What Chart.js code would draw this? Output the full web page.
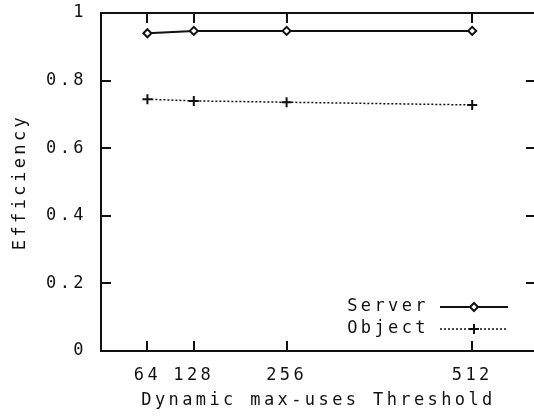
<!DOCTYPE html>
<html>
<head>
<meta charset="utf-8">
<script src="https://cdn.jsdelivr.net/npm/chart.js@4/dist/chart.umd.min.js"></script>
<style>
  html, body { margin: 0; padding: 0; background: #fff; overflow: hidden; }
  #wrap { width: 534px; height: 419px; overflow: hidden; }
</style>
</head>
<body>
<div id="wrap"><canvas id="chart" width="545" height="419"></canvas></div>
<script>
// thresholds and measured efficiency
const thresholds = [64, 128, 256, 512];
const serverEff = [0.940, 0.947, 0.947, 0.947];
const objectEff = [0.745, 0.740, 0.736, 0.728];
const yTicks = [0, 0.2, 0.4, 0.6, 0.8, 1];

const FONT = "'DejaVu Sans Mono', monospace";
const SIZE = 17;
const SPACING = '3.4px';
const TICK_LEN = 10;

function pts(ys) {
    return thresholds.map((x, i) => ({ x: x, y: ys[i] }));
}

// monospace text with wide letter spacing
const spacingPlugin = {
    id: 'spacing',
    beforeLayout(chart) { chart.ctx.letterSpacing = SPACING; },
    beforeDraw(chart) { chart.ctx.letterSpacing = SPACING; }
};

// box around the plot with inward ticks on every side
const framePlugin = {
    id: 'frame',
    afterDatasetsDraw(chart) {
        const { ctx, chartArea: a, scales } = chart;
        ctx.save();
        ctx.strokeStyle = '#111';
        ctx.lineWidth = 2;
        ctx.strokeRect(a.left, a.top, a.right - a.left, a.bottom - a.top);
        ctx.beginPath();
        scales.x.ticks.forEach(t => {
            const px = Math.round(scales.x.getPixelForValue(t.value));
            ctx.moveTo(px, a.bottom); ctx.lineTo(px, a.bottom - TICK_LEN);
            ctx.moveTo(px, a.top); ctx.lineTo(px, a.top + TICK_LEN);
        });
        scales.y.ticks.forEach(t => {
            const py = Math.round(scales.y.getPixelForValue(t.value));
            ctx.moveTo(a.left, py); ctx.lineTo(a.left + TICK_LEN, py);
            ctx.moveTo(a.right, py); ctx.lineTo(a.right - TICK_LEN, py);
        });
        ctx.stroke();
        ctx.restore();
    }
};

// key in the lower right: label, then line sample with the marker on it
const keyPlugin = {
    id: 'key',
    afterDraw(chart) {
        const ctx = chart.ctx;
        const textRight = 429, lineL = 440, lineR = 508, rowY = [307, 329];
        ctx.save();
        ctx.letterSpacing = SPACING;
        ctx.font = SIZE + 'px ' + FONT;
        ctx.textAlign = 'right';
        ctx.textBaseline = 'middle';
        ctx.fillStyle = '#111';
        chart.data.datasets.forEach((ds, i) => {
            const y = rowY[i];
            ctx.fillText(ds.label, textRight, y);
            ctx.save();
            ctx.strokeStyle = ds.borderColor;
            ctx.lineWidth = ds.borderWidth;
            ctx.setLineDash(ds.borderDash || []);
            ctx.beginPath();
            ctx.moveTo(lineL, y); ctx.lineTo(lineR, y);
            ctx.stroke();
            ctx.restore();
            Chart.helpers.drawPoint(ctx, {
                pointStyle: ds.pointStyle,
                radius: ds.pointRadius,
                borderWidth: ds.pointBorderWidth,
                rotation: 0
            }, (lineL + lineR) / 2, y);
            ctx.strokeStyle = ds.borderColor;
            ctx.lineWidth = ds.pointBorderWidth;
            ctx.fillStyle = '#fff';
            ctx.fill();
            ctx.stroke();
            ctx.fillStyle = '#111';
        });
        ctx.restore();
    }
};

new Chart(document.getElementById('chart').getContext('2d'), {
    type: 'line',
    data: {
        datasets: [{
            label: 'Server',
            data: pts(serverEff),
            borderColor: '#111',
            borderWidth: 2,
            pointStyle: 'rectRot',
            pointRadius: 4,
            pointBorderWidth: 2,
            pointBackgroundColor: '#fff',
            pointBorderColor: '#111'
        }, {
            label: 'Object',
            data: pts(objectEff),
            borderColor: '#111',
            borderWidth: 1.5,
            borderDash: [2, 2],
            pointStyle: 'cross',
            pointRadius: 5,
            pointBorderWidth: 2,
            pointBorderColor: '#111'
        }]
    },
    options: {
        responsive: false,
        animation: false,
        layout: { padding: { top: 13, right: 9, left: 0, bottom: 0 } },
        plugins: {
            legend: { display: false },
            tooltip: { enabled: false }
        },
        scales: {
            x: {
                type: 'linear',
                min: 0,
                max: 600,
                grid: { display: false, drawTicks: false },
                border: { display: false },
                afterBuildTicks: s => { s.ticks = thresholds.map(v => ({ value: v })); },
                afterFit: s => { s.height = 68; s.paddingLeft = 0; s.paddingRight = 0; },
                ticks: {
                    color: '#111',
                    padding: 14,
                    maxRotation: 0,
                    autoSkip: false,
                    font: { family: FONT, size: SIZE }
                },
                title: {
                    display: true,
                    text: 'Dynamic max-uses Threshold',
                    color: '#111',
                    padding: { top: 0, bottom: 8 },
                    font: { family: FONT, size: SIZE }
                }
            },
            y: {
                min: 0,
                max: 1,
                grid: { display: false, drawTicks: false },
                border: { display: false },
                afterBuildTicks: s => { s.ticks = yTicks.map(v => ({ value: v })); },
                afterFit: s => { s.width = 101; s.paddingTop = 0; s.paddingBottom = 0; },
                ticks: {
                    color: '#111',
                    padding: 14,
                    font: { family: FONT, size: SIZE },
                    callback: v => (v === 0 || v === 1) ? String(v) : v.toFixed(1)
                },
                title: {
                    display: true,
                    text: 'Efficiency',
                    color: '#111',
                    padding: { top: 10, bottom: 0 },
                    font: { family: FONT, size: SIZE }
                }
            }
        }
    },
    plugins: [spacingPlugin, framePlugin, keyPlugin]
});
</script>
</body>
</html>
